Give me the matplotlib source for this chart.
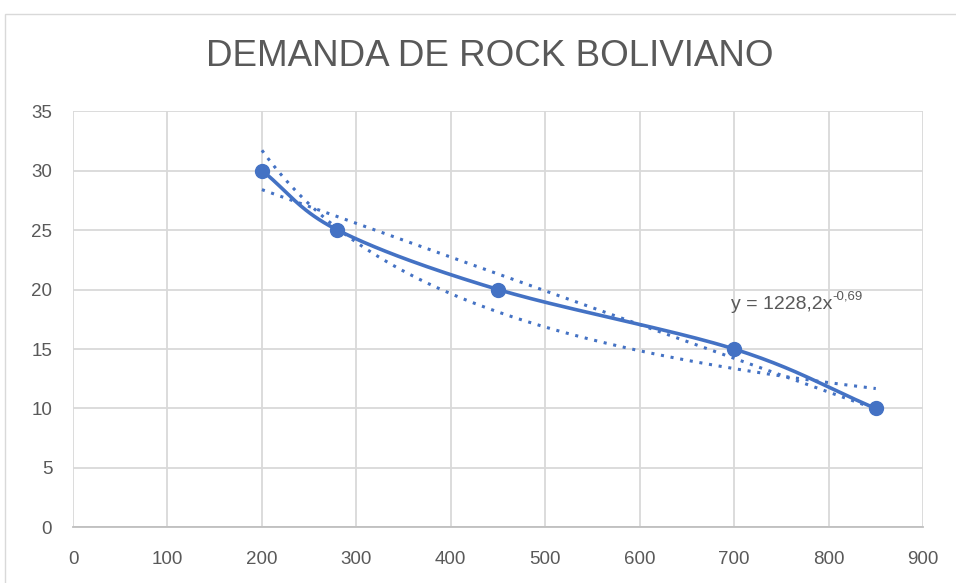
import numpy as np
import matplotlib.pyplot as plt
from matplotlib.patches import Rectangle

# precio vs cantidad demandada
precio = np.array([200, 280, 450, 700, 850])
cantidad = np.array([30, 25, 20, 15, 10])
xticks = [0, 100, 200, 300, 400, 500, 600, 700, 800, 900]
yticks = [0, 5, 10, 15, 20, 25, 30, 35]

azul = '#4472C4'
gris = '#595959'


def catmull_rom(x, y, n=40):
    """Curva suavizada tipo Excel a traves de los puntos."""
    px = np.concatenate([[2 * x[0] - x[1]], x, [2 * x[-1] - x[-2]]]).astype(float)
    py = np.concatenate([[2 * y[0] - y[1]], y, [2 * y[-1] - y[-2]]]).astype(float)
    xs, ys = [], []
    t = np.linspace(0, 1, n)
    for i in range(1, len(px) - 2):
        p0, p1, p2, p3 = (np.array([px[j], py[j]]) for j in range(i - 1, i + 3))
        c1 = p1 + (p2 - p0) / 6
        c2 = p2 - (p3 - p1) / 6
        b = ((1 - t) ** 3)[:, None] * p1 + (3 * (1 - t) ** 2 * t)[:, None] * c1 \
            + (3 * (1 - t) * t ** 2)[:, None] * c2 + (t ** 3)[:, None] * p2
        xs.append(b[:, 0])
        ys.append(b[:, 1])
    return np.concatenate(xs), np.concatenate(ys)


plt.rcParams['font.family'] = ['Liberation Sans', 'DejaVu Sans']

fig = plt.figure(figsize=(9.56, 5.83), dpi=100)
ax = fig.add_axes([0.0764, 0.0952, 0.8891, 0.7144])

fig.patches.append(Rectangle((5 / 956, -0.1), 1.2, 1 - 14 / 583 + 0.1,
                             transform=fig.transFigure, fill=False,
                             edgecolor='#D9D9D9', linewidth=1.0))

# tendencias: lineal y potencial
xt = np.linspace(precio[0], precio[-1], 200)
m, b = np.polyfit(precio, cantidad, 1)
ax.plot(xt, m * xt + b, color=azul, linestyle=(0, (1, 2.2)), linewidth=2.2, zorder=2)
k, lna = np.polyfit(np.log(precio), np.log(cantidad), 1)
a = np.exp(lna)
ax.plot(xt, a * xt ** k, color=azul, linestyle=(0, (1, 2.2)), linewidth=2.2, zorder=2)

sx, sy = catmull_rom(precio, cantidad)
ax.plot(sx, sy, color=azul, linewidth=2.6, zorder=3)
ax.plot(precio, cantidad, 'o', color=azul, markersize=10, zorder=4)

# ecuacion de la tendencia potencial, exponente como superindice
base = ax.text(697, 18.35, 'y = {:.1f}x'.format(a).replace('.', ','),
               fontsize=14, color=gris)
ax.annotate('{:.2f}'.format(k).replace('.', ','), xy=(1, 0.62), xycoords=base,
            va='bottom', ha='left', fontsize=9.5, color=gris)

ax.set_xlim(0, 900)
ax.set_ylim(0, 35)
ax.set_xticks(xticks)
ax.set_yticks(yticks)
ax.grid(True, color='#D9D9D9', linewidth=1.3)
ax.set_axisbelow(True)
for s in ['top', 'right', 'left']:
    ax.spines[s].set_visible(False)
ax.spines['bottom'].set_color('#BFBFBF')
ax.spines['bottom'].set_linewidth(1.3)
ax.tick_params(length=0, labelsize=13.5, colors=gris)
ax.tick_params(axis='x', pad=17)
ax.tick_params(axis='y', pad=15)

fig.text(490 / 956, 1 - 56 / 583, 'DEMANDA DE ROCK BOLIVIANO', ha='center', va='center',
         fontsize=26.5, color=gris)

fig.savefig('out.png', dpi=100)
